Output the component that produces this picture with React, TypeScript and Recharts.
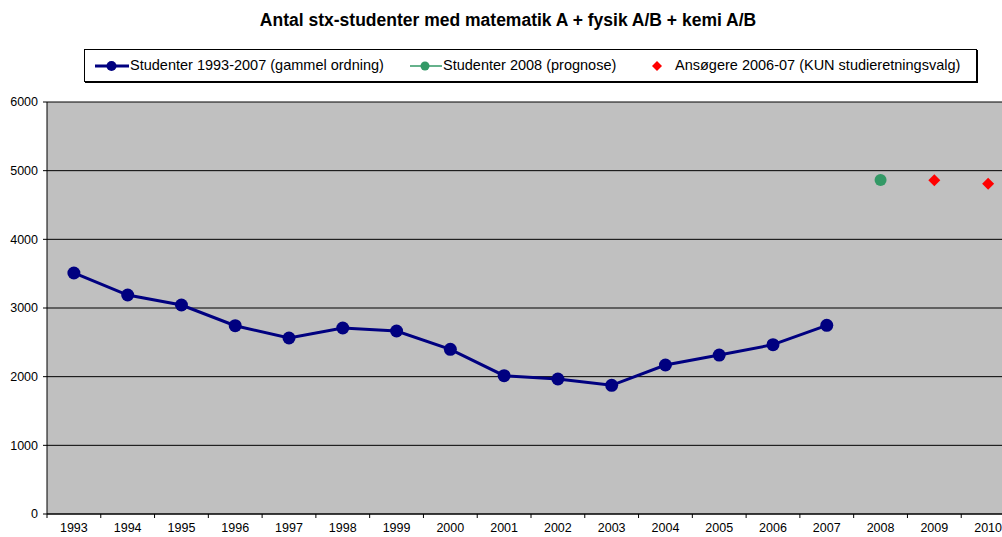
import React from "react";
import { LineChart, Line, XAxis, YAxis, CartesianGrid } from "recharts";

const years = ["1993","1994","1995","1996","1997","1998","1999","2000","2001","2002","2003","2004","2005","2006","2007","2008","2009","2010"];
const students: (number | null)[] = [3510,3189,3044,2742,2563,2709,2665,2398,2014,1966,1874,2170,2315,2466,2748,null,null,null];
const forecast: (number | null)[] = [null,null,null,null,null,null,null,null,null,null,null,null,null,null,null,4864,null,null];
const applicants: (number | null)[] = [null,null,null,null,null,null,null,null,null,null,null,null,null,null,null,null,4859,4810];
const yTicks = [0,1000,2000,3000,4000,5000,6000];

const title = "Antal stx-studenter med matematik A + fysik A/B + kemi A/B";
const legendLabels = ["Studenter 1993-2007 (gammel ordning)", "Studenter 2008 (prognose)", "Ansøgere 2006-07 (KUN studieretningsvalg)"];

const data = years.map((y, i) => ({ year: y, a: students[i], b: forecast[i], c: applicants[i] }));

const FONT = "'Liberation Sans', Arial, sans-serif";

const Diamond = (props: any) => {
  const { cx, cy, value } = props;
  if (value == null || cx == null || cy == null) return null;
  const s = 6;
  return <path d={`M${cx},${cy - s}L${cx + s},${cy}L${cx},${cy + s}L${cx - s},${cy}Z`} fill="#FF0000" />;
};

const XTick = (props: any) => {
  const { x, y, payload } = props;
  const off = payload && payload.offset != null ? payload.offset : 26.9;
  return (
    <g>
      <line x1={x - off} y1={y} x2={x - off} y2={y + 4} stroke="#000" strokeWidth={1} />
      <text x={x} y={y + 18} textAnchor="middle" fontSize={12.5} fontFamily={FONT} fill="#000">{payload.value}</text>
    </g>
  );
};

export default function App() {
  return (
    <div style={{ position: "absolute", left: 0, top: 0, width: 1002, height: 537, overflow: "hidden", background: "#fff" }}>
      <div style={{ position: "absolute", left: 0, top: 10, width: 1016, textAlign: "center", fontFamily: FONT, fontWeight: "bold", fontSize: 17.5, color: "#000", whiteSpace: "nowrap" }}>
        {title}
      </div>
      <div style={{ position: "absolute", left: 84, top: 49, width: 891, height: 31, border: "1px solid #000", boxShadow: "1px 1px 0 #000", background: "#fff", fontFamily: FONT, fontSize: 14.5, color: "#000", zIndex: 2 }}>
        <svg width={40} height={31} style={{ position: "absolute", left: 10, top: 0 }}>
          <line x1={0} y1={16} x2={34} y2={16} stroke="#000080" strokeWidth={3} />
          <circle cx={16.5} cy={16} r={5} fill="#000080" />
        </svg>
        <span style={{ position: "absolute", left: 45, top: 7, whiteSpace: "nowrap" }}>{legendLabels[0]}</span>
        <svg width={40} height={31} style={{ position: "absolute", left: 325, top: 0 }}>
          <line x1={0} y1={16} x2={32} y2={16} stroke="#339966" strokeWidth={1.5} />
          <circle cx={15} cy={16} r={4.5} fill="#339966" />
        </svg>
        <span style={{ position: "absolute", left: 358, top: 7, whiteSpace: "nowrap" }}>{legendLabels[1]}</span>
        <svg width={20} height={31} style={{ position: "absolute", left: 562, top: 0 }}>
          <path d="M10,11L15,16L10,21L5,16Z" fill="#FF0000" />
        </svg>
        <span style={{ position: "absolute", left: 590, top: 7, whiteSpace: "nowrap" }}>{legendLabels[2]}</span>
      </div>
      <LineChart width={1020} height={537} data={data} margin={{ top: 102, right: 5, bottom: 0, left: 0 }}>
        <CartesianGrid vertical={false} stroke="#000" strokeOpacity={1} fill="#C0C0C0" fillOpacity={1} />
        <XAxis dataKey="year" scale="band" height={23} axisLine={{ stroke: "#000" }} tickLine={false} tickSize={0} tickMargin={0} tick={<XTick />} interval={0} />
        <YAxis width={47} domain={[0, 6000]} ticks={yTicks} interval={0} axisLine={{ stroke: "#000" }} tickLine={{ stroke: "#000" }} tickSize={4} tickMargin={5} tick={{ fontSize: 12.5, fontFamily: FONT, fill: "#000" }} />
        <Line dataKey="a" stroke="#000080" strokeWidth={3} dot={{ r: 6.5, fill: "#000080", stroke: "none" }} isAnimationActive={false} connectNulls={false} />
        <Line dataKey="b" stroke="#339966" strokeWidth={1.5} dot={{ r: 6, fill: "#339966", stroke: "none" }} isAnimationActive={false} />
        <Line dataKey="c" stroke="none" dot={<Diamond />} isAnimationActive={false} />
      </LineChart>
    </div>
  );
}
